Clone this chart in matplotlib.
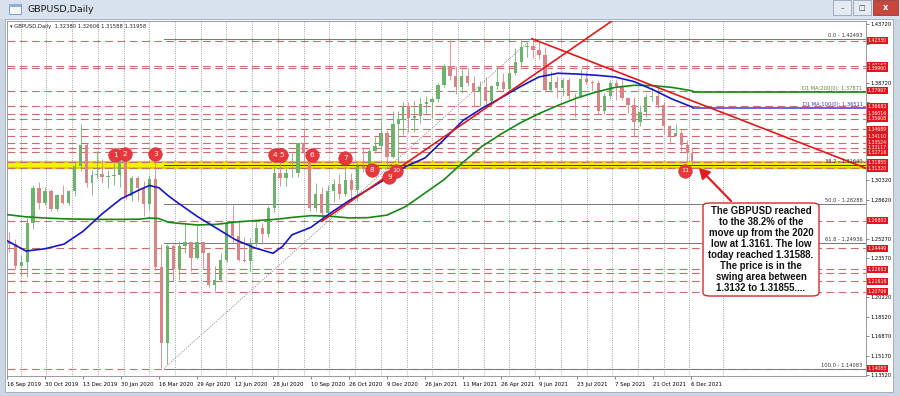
import numpy as np
import pandas as pd
import matplotlib
matplotlib.use("Agg")
import matplotlib.pyplot as plt
from matplotlib.patches import Rectangle, FancyBboxPatch
import matplotlib.transforms as mtrans

plt.rcParams['font.family'] = ['DejaVu Sans']

# ---------------- data ----------------
START = '2019-09-16'
LAST_DAY = '2021-12-08'
HOLIDAYS = ['2019-12-25', '2020-01-01', '2020-12-25', '2021-01-01']

FIRST_OPEN = 1.2498
WEEK_CLOSE = [
    1.2477, 1.2290, 1.2330, 1.2665, 1.2960, 1.2835, 1.2940, 1.2780, 1.2900, 1.2830, 1.2935, 1.3150, 1.3330, 1.3010, 1.3075, 1.3085,
    1.3060, 1.3070, 1.3075, 1.3200,
    1.2895, 1.3050, 1.2960, 1.2825,
    1.3045, 1.2280, 1.1630, 1.2460, 1.2270,
    1.2460, 1.2500, 1.2360, 1.2495,
    1.2405, 1.2130, 1.2170, 1.2340,
    1.2665, 1.2550, 1.2345, 1.2335, 1.2480,
    1.2615, 1.2565, 1.2790, 1.3090,
    1.3050, 1.3090, 1.3090, 1.3350, 1.3275,
    1.2795, 1.2915, 1.2745, 1.2935,
    1.3000, 1.2915, 1.3035, 1.2945,
    1.3150, 1.3125, 1.3285, 1.3325, 1.3440,
    1.3230, 1.3515, 1.3555, 1.3670,
    1.3565, 1.3585, 1.3685, 1.3705,
    1.3730, 1.3850, 1.4010, 1.3925,
    1.3830, 1.3925, 1.3865, 1.3790, 1.3830,
    1.3715, 1.3840, 1.3875, 1.3820,
    1.3955, 1.4050, 1.4180, 1.4190, 1.4155,
    1.4110, 1.3805, 1.3880, 1.3825,
    1.3890, 1.3760, 1.3755, 1.3900,
    1.3875, 1.3865, 1.3630, 1.3760, 1.3865,
    1.3840, 1.3740, 1.3675, 1.3530,
    1.3615, 1.3745, 1.3760, 1.3680,
    1.3495, 1.3415, 1.3440, 1.3335, 1.3265,
    1.3196]
WEEK_HIGH = [
    1.2583, 1.2524, 1.2385, 1.2708, 1.2989, 1.3012, 1.2976, 1.2953, 1.2910, 1.2986, 1.2950, 1.3180, 1.3514, 1.3350, 1.3120, 1.3284,
    1.3215, 1.3120, 1.3175, 1.3210,
    1.3245, 1.3070, 1.3070, 1.3020,
    1.3070, 1.3200, 1.2485, 1.2485, 1.2485,
    1.2505, 1.2650, 1.2470, 1.2645,
    1.2500, 1.2410, 1.2295, 1.2405,
    1.2670, 1.2813, 1.2690, 1.2545, 1.2530,
    1.2670, 1.2665, 1.2810, 1.3170,
    1.3185, 1.3140, 1.3267, 1.3355, 1.3482,
    1.3280, 1.3007, 1.2970, 1.2985,
    1.3040, 1.3080, 1.3175, 1.3095,
    1.3175, 1.3313, 1.3310, 1.3400, 1.3539,
    1.3460, 1.3625, 1.3625, 1.3705,
    1.3703, 1.3710, 1.3745, 1.3760,
    1.3745, 1.3870, 1.4035, 1.4241,
    1.4015, 1.3990, 1.4000, 1.3925, 1.3885,
    1.3920, 1.3850, 1.4010, 1.3950,
    1.4005, 1.4165, 1.4235, 1.4220, 1.4249,
    1.4220, 1.4180, 1.3975, 1.3930,
    1.3910, 1.3910, 1.3785, 1.3985,
    1.3960, 1.3890, 1.3890, 1.3785, 1.3890,
    1.3890, 1.3890, 1.3750, 1.3750,
    1.3675, 1.3775, 1.3835, 1.3825,
    1.3700, 1.3510, 1.3515, 1.3460, 1.3375,
    1.3305]
WEEK_LOW = [
    1.2410, 1.2270, 1.2205, 1.2196, 1.2610, 1.2782, 1.2820, 1.2768, 1.2768, 1.2823, 1.2820, 1.2895, 1.3110, 1.2975, 1.2905, 1.3050,
    1.3010, 1.2960, 1.2990, 1.2975,
    1.2870, 1.2850, 1.2850, 1.2725,
    1.2770, 1.2260, 1.1409, 1.1450, 1.2160,
    1.2170, 1.2400, 1.2250, 1.2355,
    1.2265, 1.2110, 1.2075, 1.2160,
    1.2330, 1.2490, 1.2335, 1.2330, 1.2252,
    1.2460, 1.2480, 1.2540, 1.2760,
    1.2980, 1.2980, 1.3060, 1.3060, 1.3160,
    1.2765, 1.2765, 1.2676, 1.2710,
    1.2845, 1.2865, 1.2895, 1.2855,
    1.2855, 1.3105, 1.3110, 1.3280, 1.3290,
    1.3135, 1.3225, 1.3188, 1.3420,
    1.3450, 1.3450, 1.3520, 1.3610,
    1.3565, 1.3705, 1.3830, 1.3890,
    1.3775, 1.3780, 1.3840, 1.3670, 1.3670,
    1.3670, 1.3670, 1.3820, 1.3800,
    1.3800, 1.3940, 1.4010, 1.4095, 1.4085,
    1.4075, 1.3790, 1.3790, 1.3735,
    1.3760, 1.3730, 1.3572, 1.3750,
    1.3860, 1.3800, 1.3600, 1.3600, 1.3730,
    1.3725, 1.3725, 1.3610, 1.3412,
    1.3500, 1.3575, 1.3715, 1.3650,
    1.3425, 1.3355, 1.3410, 1.3280, 1.3195,
    1.3159]

# moving averages
MA_DATES = ['2019-09-16', '2019-10-08', '2019-10-30', '2019-11-21', '2019-12-13', '2020-01-08', '2020-01-30',
            '2020-02-21', '2020-03-04', '2020-03-16', '2020-03-26', '2020-04-07', '2020-04-29', '2020-05-21',
            '2020-06-12', '2020-07-06', '2020-07-28', '2020-08-07', '2020-08-19', '2020-09-10', '2020-10-02',
            '2020-10-26', '2020-11-17', '2020-12-09', '2021-01-04', '2021-01-26', '2021-02-17', '2021-03-11',
            '2021-04-02', '2021-04-26', '2021-05-18', '2021-06-09', '2021-07-01', '2021-07-23', '2021-08-16',
            '2021-09-07', '2021-09-29', '2021-10-21', '2021-11-12', '2021-12-06', '2021-12-08']
MA100 = [1.2510, 1.2420, 1.2440, 1.2480, 1.2590, 1.2740, 1.2870,
         1.2950, 1.2985, 1.2965, 1.2895, 1.2835, 1.2720, 1.2620,
         1.2520, 1.2450, 1.2401, 1.2460, 1.2560, 1.2625, 1.2745,
         1.2854, 1.2949, 1.3049, 1.3150, 1.3222, 1.3380, 1.3545,
         1.3650, 1.3740, 1.3835, 1.3920, 1.3952, 1.3945, 1.3935,
         1.3920, 1.3880, 1.3810, 1.3730, 1.3665, 1.3655]
MA200 = [1.2734, 1.2715, 1.2705, 1.2698, 1.2695, 1.2693, 1.2693,
         1.2695, 1.2705, 1.2700, 1.2668, 1.2660, 1.2645, 1.2650,
         1.2670, 1.2682, 1.2692, 1.2700, 1.2710, 1.2725, 1.2720,
         1.2706, 1.2708, 1.2730, 1.2805, 1.2920, 1.3035, 1.3184,
         1.3322, 1.3428, 1.3523, 1.3604, 1.3675, 1.3739, 1.3790,
         1.3830, 1.3848, 1.3845, 1.3830, 1.3802, 1.3795]
MA100_NOW = 1.36511
MA200_NOW = 1.37871

LEVELS = [1.42330, 1.40167, 1.39960, 1.37997, 1.36682, 1.36016, 1.35608, 1.34689, 1.34110, 1.33524,
          1.33117, 1.32716, 1.31855, 1.31320, 1.26802, 1.24449, 1.22653, 1.22310, 1.21616, 1.20706, 1.14083]
PRICE_TAGS = [1.42330, 1.40167, 1.39960, 1.37997, 1.36682, 1.36016, 1.35608, 1.34689, 1.34110, 1.33524,
              1.33117, 1.32716, 1.31855, 1.31320, 1.26802, 1.24449, 1.22653, 1.21616, 1.20706, 1.14083]
ZONE = [1.31320, 1.31855]

FIB_START = ('2020-03-20', 1.14083)
FIB_END = ('2021-06-01', 1.42493)
FIB_PCT = [0.0, 38.2, 50.0, 61.8, 100.0]

TREND_UP = [('2020-09-23', 1.2676), ('2021-09-02', 1.4399)]
TREND_DOWN = [('2021-06-01', 1.42493), ('2021-12-08', 1.3710)]

MARK_TEXT = ['1', '2', '3', '4', '5', '6', '7', '8', '9', '10', '11']
MARK_DATES = ['2020-01-23', '2020-02-04', '2020-03-11', '2020-07-30', '2020-08-06', '2020-09-11',
              '2020-10-21', '2020-11-20', '2020-12-11', '2020-12-21', '2021-11-29']
MARK_PRICES = [1.3248, 1.3256, 1.3256, 1.3248, 1.3248, 1.3248, 1.3222, 1.3119, 1.3061, 1.3110, 1.3112]

X_LABEL_DATES = ['2019-09-16', '2019-10-30', '2019-12-13', '2020-01-30', '2020-03-16', '2020-04-29',
                 '2020-06-12', '2020-07-28', '2020-09-10', '2020-10-26', '2020-12-09', '2021-01-26',
                 '2021-03-11', '2021-04-26', '2021-06-09', '2021-07-23', '2021-09-07', '2021-10-21', '2021-12-06']
X_LABELS = ['16 Sep 2019', '30 Oct 2019', '13 Dec 2019', '30 Jan 2020', '16 Mar 2020', '29 Apr 2020',
            '12 Jun 2020', '28 Jul 2020', '10 Sep 2020', '26 Oct 2020', '9 Dec 2020', '26 Jan 2021',
            '11 Mar 2021', '26 Apr 2021', '9 Jun 2021', '23 Jul 2021', '7 Sep 2021', '21 Oct 2021', '6 Dec 2021']
Y_TICKS = [1.43720, 1.42020, 1.40370, 1.38720, 1.37020, 1.35320, 1.33670, 1.31970, 1.30320, 1.28620,
           1.26920, 1.25270, 1.23570, 1.21870, 1.20220, 1.18520, 1.16870, 1.15170, 1.13520]

HEADER_OHLC = ['1.32380', '1.32606', '1.31588', '1.31958']
NOTE = ("The GBPUSD reached\nto the 38.2% of the\nmove up from the 2020\nlow at 1.3161. The low\n"
        "today reached 1.31588.\nThe price is in the\nswing area between\n1.3132 to 1.31855....")


def bar(d):
    return float(np.busday_count(START, np.datetime64(d, 'D'), holidays=HOLIDAYS))


# ---------------- figure / window chrome ----------------
W, H = 900, 396
fig = plt.figure(figsize=(9, 3.96), dpi=100)
fig.patch.set_facecolor('#cdd7e4')


def fr(x, y, w, h, z=-10, **kw):
    r = Rectangle((x / W, 1 - (y + h) / H), w / W, h / H, transform=fig.transFigure, zorder=z, **kw)
    fig.add_artist(r)


fr(0, 0, 900, 19, fc='#d9e3ef', ec='none')
fr(5, 19, 888, 373, fc='white', ec='#9aa8bb', lw=0.6)
fr(9, 4, 12, 10, z=1, fc='#f3f6fa', ec='#6f8fb5', lw=0.6)
fr(9, 4, 12, 3, z=1, fc='#8fb0d8', ec='none')
fig.text(28 / W, 1 - 10 / H, 'GBPUSD,Daily', fontsize=6.8, va='center', color='#1b1b1b')
fr(833, 0, 18, 15, z=1, fc='#e6ebf2', ec='#8796aa', lw=0.5)
fr(853, 0, 18, 15, z=1, fc='#e6ebf2', ec='#8796aa', lw=0.5)
fr(873, 0, 25, 15, z=1, fc='#c9463d', ec='#8a2d28', lw=0.5)
fig.text(842 / W, 1 - 8 / H, '–', fontsize=5, ha='center', va='center', color='#333')
fig.text(862 / W, 1 - 8 / H, '□', fontsize=5, ha='center', va='center', color='#333')
fig.text(885.5 / W, 1 - 8 / H, 'x', fontsize=6, ha='center', va='center', color='white', weight='bold')

ax = fig.add_axes([6.7 / W, 20 / H, (866 - 6.7) / W, 355 / H])
ax.set_facecolor('white')
ax.set_ylim(1.13441, 1.44018)
ax.set_xlim(-0.25, 723.4)
for s in ax.spines.values():
    s.set_color('#8c8c8c')
    s.set_linewidth(0.6)

# vertical dotted grid
for k in range(27):
    ax.axvline(11.54 + 21.66 * k, color='#555555', lw=0.5, ls=(0, (1, 2.2)), zorder=0.5)
ax.axvline(603, color='#555555', lw=0.5, ls=(0, (1, 2.2)), zorder=0.5)

# zone
ax.axhspan(ZONE[0], ZONE[1], fc='#f6f400', ec='none', zorder=0.6)
for z in ZONE:
    ax.axhline(z, color='#d8d400', lw=1.6, zorder=0.65)

# horizontal levels
for lv in LEVELS:
    ax.axhline(lv, color='#cf6b6b', lw=0.8, dashes=(7, 4), zorder=0.8)

bt = mtrans.blended_transform_factory(ax.transAxes, ax.transData)

# fibonacci
f0, f1 = bar(FIB_START[0]), bar(FIB_END[0])
lo, hi = FIB_START[1], FIB_END[1]
for pct in FIB_PCT:
    p = hi - pct / 100.0 * (hi - lo)
    ax.plot([f0, 723.4], [p, p], color='#3c3c3c' if pct == 38.2 else '#777777', lw=0.7, zorder=0.9)
    ax.text(0.996, p + 0.0007, f'{pct:.1f} - {p:.5f}', transform=bt,
            ha='right', va='bottom', fontsize=3.7, color='#333333', zorder=5)
ax.plot([f0, f1], [lo, hi], color='#8a8a8a', lw=0.6, ls=(0, (1.5, 1.5)), zorder=0.9)

# candles (weekly)
mondays = pd.date_range(START, periods=len(WEEK_CLOSE), freq='W-MON')
opens = [FIRST_OPEN] + WEEK_CLOSE[:-1]
last = np.datetime64(LAST_DAY, 'D')
for m, o, c, h, l in zip(mondays, opens, WEEK_CLOSE, WEEK_HIGH, WEEK_LOW):
    d0 = np.datetime64(m.date(), 'D')
    days = np.arange(d0, d0 + 5)
    days = days[np.is_busday(days, holidays=HOLIDAYS) & (days <= last)]
    idx = np.busday_count(START, days, holidays=HOLIDAYS)
    xc = idx.mean()
    wdt = 0.55 * len(idx)
    col = '#6cb46c' if c >= o else '#d98585'
    ax.vlines(xc, l, h, color=col, lw=0.6, zorder=2)
    ax.bar(xc, max(abs(c - o), 0.0004), bottom=min(o, c), width=wdt, color=col, ec='none', zorder=2.1)

# moving averages
mx = [bar(d) for d in MA_DATES]
ax.plot(mx, MA200, color='#138a13', lw=1.2, zorder=3)
ax.plot(mx, MA100, color='#1616c8', lw=1.2, zorder=3)
ax.plot([mx[-1], 723.4], [MA200_NOW, MA200_NOW], color='#138a13', lw=1.2, zorder=3)
ax.plot([mx[-1], 723.4], [MA100_NOW, MA100_NOW], color='#4b4bd2', lw=1.2, zorder=3)
ax.text(0.996, MA200_NOW + 0.0008, f'D1 MA:200(0): {MA200_NOW:.5f}', transform=bt, ha='right', va='bottom',
        fontsize=3.7, color='#4f8a1f', zorder=5)
ax.text(0.996, MA100_NOW + 0.0008, f'D1 MA:100(0): {MA100_NOW:.5f}', transform=bt, ha='right', va='bottom',
        fontsize=3.7, color='#3a3ab8', zorder=5)

# trend lines (rays clipped by the axes)
for (d1, p1), (d2, p2) in [TREND_UP, TREND_DOWN]:
    x1, x2 = bar(d1), bar(d2)
    slope = (p2 - p1) / (x2 - x1)
    ax.plot([x1, 800], [p1, p1 + slope * (800 - x1)], color='#e01818', lw=1.2, zorder=3.5)

# numbered markers
for t, d, p in zip(MARK_TEXT, MARK_DATES, MARK_PRICES):
    xm = bar(d)
    ax.scatter([xm], [p], s=95, color='#e8383d', edgecolors='#c42a2a', linewidths=0.4, zorder=6)
    ax.text(xm, p, t, ha='center', va='center', color='white', fontsize=5.2 if len(t) == 1 else 4.6, zorder=7)

# axes ticks (labels hidden where a price tag sits on top of them, as in the terminal)
ax.yaxis.tick_right()
ax.set_yticks(Y_TICKS)
tag_arr = np.array(PRICE_TAGS)
ax.set_yticklabels(['' if np.min(np.abs(tag_arr - v)) < 0.0048 else f'{v:.5f}' for v in Y_TICKS])
ax.tick_params(axis='y', length=2, width=0.5, color='#555555', labelsize=3.7, pad=1.2)
ax.set_xticks([bar(d) for d in X_LABEL_DATES])
ax.set_xticklabels(X_LABELS)
for lbl in ax.get_xticklabels():
    lbl.set_horizontalalignment('left')
ax.tick_params(axis='x', length=2, width=0.5, color='#555555', labelsize=3.9, pad=2)

# price tags
for p in PRICE_TAGS:
    ax.text(1.002, p, f'{p:.5f}', transform=bt, ha='left', va='center', fontsize=3.3, color='white',
            bbox=dict(boxstyle='square,pad=0.22', fc='#e3141c', ec='none'), zorder=8, clip_on=False)

# header
ax.text(0.004, 0.992, '▾ GBPUSD,Daily  ' + ' '.join(HEADER_OHLC), transform=ax.transAxes,
        ha='left', va='top', fontsize=3.8, color='#222222', zorder=9)

# note box and arrow
box = FancyBboxPatch((703 / W, 1 - 296 / H), 116 / W, 93 / H,
                     boxstyle='round,pad=0,rounding_size=0.008', transform=fig.transFigure,
                     fc='white', ec='#d22b2b', lw=1.0, zorder=10)
fig.add_artist(box)
fig.text(761 / W, 1 - 249.5 / H, NOTE, ha='center', va='center', fontsize=6.9, weight='bold',
         family=['Liberation Sans', 'DejaVu Sans'], linespacing=1.13, color='#111111', zorder=11)
ax.annotate('', xy=(697, H - 166), xycoords='figure pixels', xytext=(733, H - 203),
            textcoords='figure pixels',
            arrowprops=dict(arrowstyle='-|>,head_length=0.6,head_width=0.35', color='#e02020', lw=1.6),
            zorder=10, annotation_clip=False)

fig.savefig('out.png', dpi=100, facecolor=fig.get_facecolor())
